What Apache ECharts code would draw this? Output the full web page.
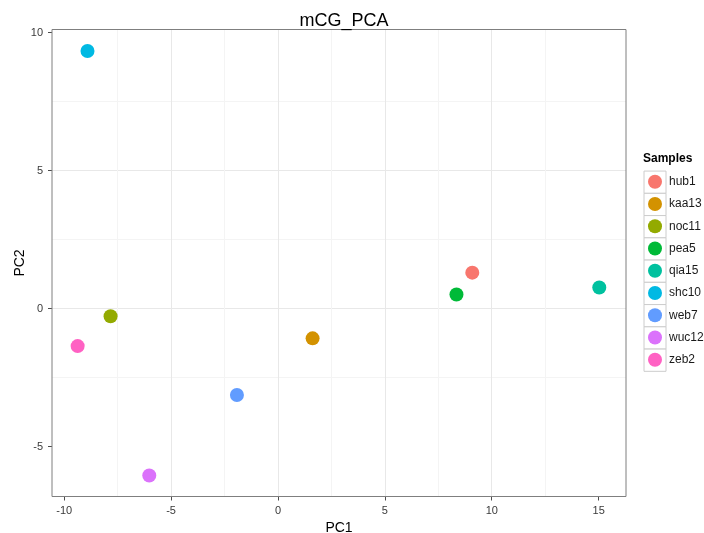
<!DOCTYPE html>
<html>
<head>
<meta charset="utf-8">
<script src="https://cdn.jsdelivr.net/npm/echarts@6/dist/echarts.min.js"></script>
<style>
  html, body { margin: 0; padding: 0; background: #fff; }
  #chart { width: 704px; height: 533px; }
</style>
</head>
<body>
<div id="chart"></div>
<script>
// PCA scores per sample
const samples = ['hub1', 'kaa13', 'noc11', 'pea5', 'qia15', 'shc10', 'web7', 'wuc12', 'zeb2'];
const pc1 = [9.09, 1.62, -7.83, 8.35, 15.03, -8.91, -1.92, -6.02, -9.37];
const pc2 = [1.30, -1.08, -0.28, 0.51, 0.76, 9.33, -3.13, -6.05, -1.36];
const palette = ['#F8766D', '#D39200', '#93AA00', '#00BA38', '#00C19F', '#00B9E3', '#619CFF', '#DB72FB', '#FF61C3'];
const xTicks = [-10, -5, 0, 5, 10, 15];
const yTicks = [-5, 0, 5, 10];

const FONT = '"Liberation Sans", Arial, Helvetica, sans-serif';
const grey50 = '#7f7f7f';

// legend layout
const legendTop = 174.7;
const keySize = 22.25;
const keyIcon = 14;

const chart = echarts.init(document.getElementById('chart'), null, { renderer: 'canvas' });

const series = samples.map((name, i) => ({
  name: name,
  type: 'scatter',
  symbol: 'circle',
  symbolSize: 14,
  itemStyle: { color: palette[i], opacity: 1 },
  data: [[pc1[i], pc2[i]]],
  emphasis: { disabled: true },
  z: 3
}));

const keyBoxes = samples.map((name, i) => ({
  type: 'rect',
  left: 643.5,
  top: legendTop - (keySize - keyIcon) / 2 + i * keySize,
  z: 0,
  shape: { width: 22, height: keySize },
  style: { fill: '#ffffff', stroke: '#cccccc', lineWidth: 1 }
}));

const axisCommon = {
  axisLine: { show: false, onZero: false },
  axisTick: { show: true, length: 4, lineStyle: { color: '#4d4d4d', width: 1 } },
  axisLabel: { fontFamily: FONT, fontSize: 11, color: '#3a3a3a', margin: 9 },
  splitLine: { show: true, showMinLine: false, showMaxLine: false, lineStyle: { color: '#e8e8e8', width: 1 } },
  minorTick: { show: false, splitNumber: 2 },
  minorSplitLine: { show: true, lineStyle: { color: '#f4f4f4', width: 1 } },
  nameLocation: 'middle',
  nameTextStyle: { fontFamily: FONT, fontSize: 14, color: '#000' }
};

chart.setOption({
  animation: false,
  backgroundColor: '#ffffff',
  textStyle: { fontFamily: FONT },
  title: [
    {
      text: 'mCG_PCA',
      left: 339, top: 7, textAlign: 'center',
      textStyle: { fontFamily: FONT, fontSize: 18, fontWeight: 'normal', color: '#000' }
    },
    {
      text: 'Samples',
      left: 643, top: 153, padding: 0,
      textStyle: { fontFamily: FONT, fontSize: 12, fontWeight: 'bold', color: '#000' }
    }
  ],
  grid: {
    left: 52, top: 29.5, right: 78, bottom: 36.5,
    containLabel: false, outerBoundsMode: 'none',
    show: true, borderColor: grey50, borderWidth: 1, backgroundColor: 'transparent', z: 2
  },
  xAxis: Object.assign({}, axisCommon, {
    type: 'value',
    name: 'PC1',
    nameGap: 24,
    min: -10.57,
    max: 16.28,
    minInterval: 5,
    maxInterval: 5,
    axisTick: Object.assign({}, axisCommon.axisTick, { customValues: xTicks }),
    axisLabel: Object.assign({}, axisCommon.axisLabel, { customValues: xTicks })
  }),
  yAxis: Object.assign({}, axisCommon, {
    type: 'value',
    name: 'PC2',
    nameGap: 25,
    nameMoveOverlap: false,
    nameRotate: 90,
    min: -6.81,
    max: 10.11,
    minInterval: 5,
    maxInterval: 5,
    axisTick: Object.assign({}, axisCommon.axisTick, { customValues: yTicks }),
    axisLabel: Object.assign({}, axisCommon.axisLabel, { customValues: yTicks })
  }),
  legend: {
    orient: 'vertical',
    left: 648,
    top: legendTop,
    padding: 0,
    itemWidth: keyIcon,
    itemHeight: keyIcon,
    itemGap: keySize - keyIcon,
    icon: 'circle',
    selectedMode: false,
    textStyle: { fontFamily: FONT, fontSize: 12, color: '#1a1a1a', lineHeight: keyIcon, padding: [0, 0, 0, 2] },
    data: samples
  },
  graphic: keyBoxes,
  series: series
});
</script>
</body>
</html>
